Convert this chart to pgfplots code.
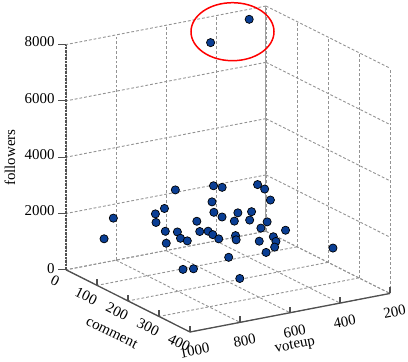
\documentclass[border=0pt]{standalone}
\usepackage{pgfplots}
\pgfplotsset{compat=1.18}
\usepackage{fontspec}
\setmainfont{Liberation Serif}
\definecolor{dotblue}{RGB}{10,62,148}
\definecolor{axgray}{RGB}{80,80,80}
\begin{document}
\begin{tikzpicture}
\useasboundingbox (-66bp,-30bp) rectangle (342bp,332bp);
\begin{axis}[
  at={(0,0)}, anchor=south west,
  view={58.2}{18}, y dir=reverse,
  scale only axis, width=324bp, height=326bp,
  xmin=0, xmax=400, ymin=200, ymax=1000, zmin=0, zmax=8000,
  xtick={0,100,200,300,400}, ytick={200,400,600,800,1000}, ztick={0,2000,4000,6000,8000},
  scaled ticks=false,
  /pgf/number format/1000 sep={},
  /pgf/number format/assume math mode=true,
  grid=major,
  grid style={gray!85, line width=0.9bp, dash pattern=on 2.8bp off 2bp},
  axis line style={draw=none},
  tick pos=left,
  major tick length=0pt,
  tick label style={font=\fontsize{15}{18}\selectfont},
  label style={font=\fontsize{15}{18}\selectfont},
  xticklabel style={xshift=-7bp, yshift=-3bp, rotate=-26.57, anchor=north},
  yticklabel style={xshift=3bp, yshift=-10bp, rotate=11.03, anchor=north},
  zticklabel style={xshift=-8bp},
  xlabel={comment}, ylabel={voteup}, zlabel={followers},
  xlabel style={at={(axis cs:334,1231,0)}, anchor=center, rotate=-26.57},
  ylabel style={at={(axis cs:546,761,0)}, yshift=-3bp, anchor=center, rotate=11.03},
  zlabel style={at={(axis cs:0,1224,4370)}, anchor=center, rotate=0},
  clip=false,
]
\draw[gray!75, line width=1bp] (axis cs:0,200,0) -- (axis cs:0,200,8000);
\draw[axgray, line width=1.3bp] (axis cs:0,1000,0) -- (axis cs:400,1000,0) -- (axis cs:400,200,0);
\draw[axgray, line width=1.3bp, dash pattern=on 2.5bp off 1bp] (axis cs:0,1000,0) -- (axis cs:0,1000,8000);
% tick marks
\draw[axgray, line width=1.1bp] (axis cs:0,1000,0) -- ([xshift=-8bp]axis cs:0,1000,0);
\draw[axgray, line width=1.1bp] (axis cs:0,1000,2000) -- ([xshift=-8bp]axis cs:0,1000,2000);
\draw[axgray, line width=1.1bp] (axis cs:0,1000,4000) -- ([xshift=-8bp]axis cs:0,1000,4000);
\draw[axgray, line width=1.1bp] (axis cs:0,1000,6000) -- ([xshift=-8bp]axis cs:0,1000,6000);
\draw[axgray, line width=1.1bp] (axis cs:0,1000,8000) -- ([xshift=-8bp]axis cs:0,1000,8000);
\draw[axgray, line width=1.1bp] (axis cs:100,1000,0) -- ([yshift=6bp]axis cs:100,1000,0);
\draw[axgray, line width=1.1bp] (axis cs:200,1000,0) -- ([yshift=6bp]axis cs:200,1000,0);
\draw[axgray, line width=1.1bp] (axis cs:300,1000,0) -- ([yshift=6bp]axis cs:300,1000,0);
\draw[axgray, line width=1.1bp] (axis cs:400,1000,0) -- ([yshift=6bp]axis cs:400,1000,0);
\draw[axgray, line width=1.1bp] (axis cs:400,800,0) -- ([yshift=6bp]axis cs:400,800,0);
\draw[axgray, line width=1.1bp] (axis cs:400,600,0) -- ([yshift=6bp]axis cs:400,600,0);
\draw[axgray, line width=1.1bp] (axis cs:400,400,0) -- ([yshift=6bp]axis cs:400,400,0);
\draw[axgray, line width=1.1bp] (axis cs:400,200,0) -- ([yshift=6bp]axis cs:400,200,0);
\addplot3[only marks, mark=*, mark size=4.1bp,
  mark options={fill=dotblue, draw=black, line width=0.7bp}] coordinates {
(20,292,7796) (60,496,7538)
(168,442,3000) (182,431,2900) (121,560,2900) (136,544,2900) (93,678,2800)
(186,413,2500) (129,576,2400) (197,502,2300) (177,532,2200) (91,719,2200)
(82,744,2000) (64,890,2000) (219,467,2000) (140,582,2100) (143,553,1900)
(182,491,1900) (160,525,1800) (96,759,1800) (114,618,1700) (190,456,1600)
(209,381,1500) (125,620,1400) (131,594,1400) (80,702,1300) (94,671,1300)
(138,584,1300) (163,524,1300) (189,405,1200) (150,575,1200) (47,906,1200)
(295,298,1200) (100,666,1100) (157,514,1100) (105,645,1000) (171,439,1000)
(187,392,1000) (71,687,800) (186,396,800) (177,419,600) (153,539,500)
(129,692,200) (129,650,150) (209,564,100)
};
\end{axis}
\draw[red, line width=1.5bp] (166.5bp,300.3bp) ellipse (41.5bp and 29bp);
\end{tikzpicture}
\end{document}
